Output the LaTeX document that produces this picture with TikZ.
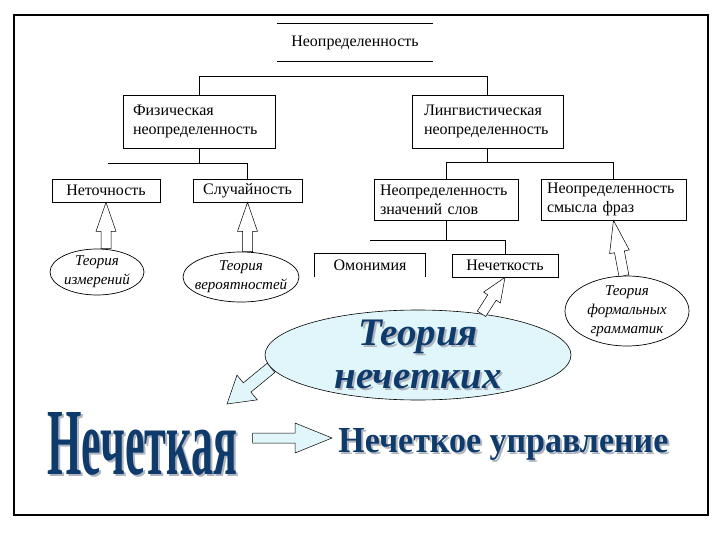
\documentclass[tikz,border=0pt]{standalone}
\usepackage{fontspec}
\setmainfont{Liberation Serif}
\usepackage{graphicx}
\usetikzlibrary{shapes.geometric,calc}

\definecolor{navy}{RGB}{14,58,108}
\definecolor{shade}{RGB}{175,180,190}
\definecolor{pale}{RGB}{224,246,250}

% text with a grey drop shadow
\newcommand{\shadowed}[1]{\makebox[0pt][l]{\hspace{2pt}\raisebox{-2pt}{\color{shade}#1}}{\color{navy}#1}}
% hollow block arrow: [style]{from}{to}{shaft half width}{head half width}{head length}
\newcommand{\blockarrow}[6][]{%
  \draw[blockarr,#1] let \p1=(#2), \p2=(#3),
    \n1={atan2(\y2-\y1,\x2-\x1)}, \n2={veclen(\x2-\x1,\y2-\y1)} in
    [shift={(\p1)},rotate=\n1]
    (0,-#4) -- ({\n2-#6},-#4) -- ({\n2-#6},-#5) -- (\n2,0)
    -- ({\n2-#6},#5) -- ({\n2-#6},#4) -- (0,#4) -- cycle;}

\begin{document}
\begin{tikzpicture}[x=1pt,y=-1pt,font=\fontsize{16}{19}\selectfont,inner sep=0pt,line width=.7pt,
  box/.style={draw,minimum height=23pt},
  tallbox/.style={draw,align=left},
  theory/.style={draw,ellipse,align=center,inner xsep=-6pt,inner ysep=-3pt,font=\fontsize{15}{19}\selectfont\itshape},
  blockarr/.style={line width=.5pt,fill=white}]
\useasboundingbox (0,0) rectangle (720,540);
\draw[line width=1.2pt] (14,15) rectangle (708,515);

% tree
\node (unc) at (355,42.5) [minimum width=155pt,minimum height=37pt] {Неопределенность};
\draw (unc.north west) -- (unc.north east) (unc.south west) -- (unc.south east);
\node[tallbox,minimum width=152pt,minimum height=53pt,text width=132pt] (phys) at (199,121.5) {Физическая\\неопределенность};
\node[tallbox,minimum width=151pt,minimum height=53pt,text width=127pt] (ling) at (487.5,121.5) {Лингвистическая\\неопределенность};
\draw (phys.north) -- ++(0,-18) -| (ling.north);

\node[box,minimum width=108pt] (inacc) at (106,190.5) {Неточность};
\node[box,minimum width=109pt] (rand) at (247.5,190.5) {Случайность};
\coordinate (pbar) at (108,163);
\draw (phys.south) -- (phys.south |- pbar);
\draw (pbar) -| (rand.north);

\node[tallbox,minimum width=144pt,minimum height=41pt,text width=132pt] (wordm) at (446,199.5) {Неопределенность\\значений слов};
\node[tallbox,minimum width=145pt,minimum height=41pt,text width=133pt] (phrm) at (613.5,199.5) {Неопределенность\\смысла фраз};
\draw (ling.south) -- ++(0,14) coordinate (lj);
\draw (wordm.north) |- (lj) -| (phrm.north);

\node (homon) at (370,265.5) [minimum width=110pt,minimum height=23pt] {Омонимия};
\draw (homon.south west) |- (homon.north east) -- (homon.south east);
\node[box,minimum width=106pt] (fuzz) at (505,265.5) {Нечеткость};
\coordinate (wbar) at (370,240);
\draw (wordm.south) -- (wordm.south |- wbar);
\draw (wbar) -| (fuzz.north);

% theories
\node[theory,minimum width=94pt,minimum height=46pt] (tmeas) at (97,272) {Теория\\измерений};
\node[theory,minimum width=116pt,minimum height=50pt] (tprob) at (241,277) {Теория\\вероятностей};
\node[theory,minimum width=124pt,minimum height=70pt] (tgram) at (627,311) {Теория\\формальных\\грамматик};
\node[draw,ellipse,fill=pale,line width=.6pt,minimum width=306pt,minimum height=90pt,inner xsep=0pt,inner ysep=-14pt,
  align=center,font=\fontsize{39}{43}\selectfont\bfseries\itshape] (tfuzzy) at (418,355) {\shadowed{Теория}\\\shadowed{нечетких}};

\blockarrow{inacc.south |- tmeas.north}{inacc.south}{5}{10}{29}
\blockarrow{rand.south |- tprob.north}{rand.south}{5}{10}{29}
\blockarrow{tgram.95}{phrm.south}{5}{10}{32}
\blockarrow{tfuzzy.33}{fuzz.south}{5}{10}{24}

% bottom line
\node[anchor=base west] (fuzzyw) at (47,474) {\shadowed{\resizebox{190pt}{62pt}{\bfseries Нечеткая}}};
\node[anchor=base west] (fuzzyc) at (338,452) {\shadowed{\resizebox{330pt}{24pt}{\bfseries Нечеткое управление}}};
\coordinate (tip) at (227,404);
\blockarrow[fill=pale]{tfuzzy.185}{tip}{6}{16}{26}
\blockarrow[fill=pale]{$(fuzzyw.base east)+(15,-36)$}{$(fuzzyc.base west)+(-6,-14)$}{5}{15}{37}
\end{tikzpicture}
\end{document}
